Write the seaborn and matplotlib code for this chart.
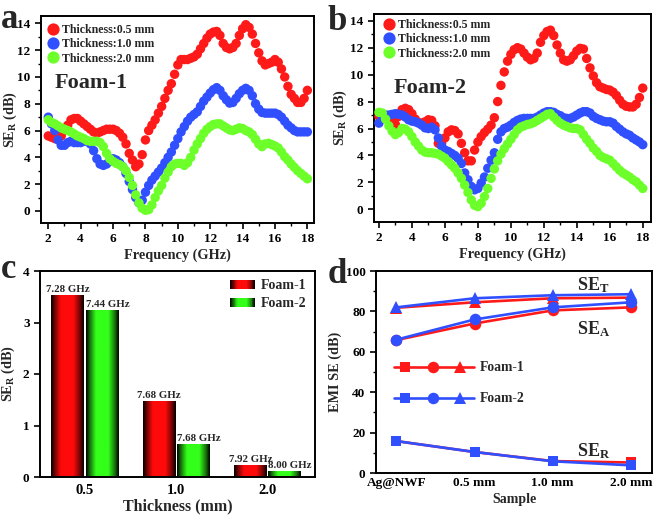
import numpy as np
import pandas as pd
import matplotlib
matplotlib.use("Agg")
import matplotlib.pyplot as plt
import seaborn as sns
from matplotlib.patches import Patch, Rectangle
from matplotlib.lines import Line2D
from matplotlib.legend_handler import HandlerBase
from matplotlib.colors import LinearSegmentedColormap, to_rgb
from matplotlib.ticker import MultipleLocator

# ---------------- data ----------------
freq = np.round(np.arange(2.0, 18.01, 0.2), 1)

foam1_05 = [5.6, 5.5, 5.4, 5.4, 5.6, 6.0, 6.4, 6.8, 6.9, 6.9, 6.7, 6.5, 6.3, 6.1, 5.9, 5.8, 5.9, 6.0, 6.1, 6.1,
            6.1, 6.0, 5.8, 5.5, 5.0, 4.3, 3.8, 3.3, 3.5, 4.2, 5.3, 6.0, 6.4, 6.8, 7.3, 7.8, 8.4, 9.0, 9.5, 10.2,
            10.9, 11.3, 11.3, 11.3, 11.4, 11.5, 11.7, 12.1, 12.5, 12.9, 13.2, 13.35, 13.4, 13.1, 12.5, 12.2, 12.1, 12.2, 12.5, 13.1,
            13.6, 13.9, 13.7, 13.2, 12.5, 11.8, 11.2, 10.9, 11.0, 11.1, 11.3, 11.1, 10.6, 10.0, 9.3, 8.7, 8.4, 8.1, 8.1, 8.4,
            9.0]
foam1_10 = [7.0, 6.5, 6.0, 5.3, 4.9, 4.9, 5.1, 5.2, 5.1, 5.1, 5.1, 5.2, 5.2, 5.0, 4.5, 3.9, 3.5, 3.4, 3.5, 3.7,
            3.9, 3.8, 3.6, 3.3, 2.8, 2.2, 1.6, 1.0, 0.6, 0.8, 1.4, 1.9, 2.3, 2.6, 2.9, 3.2, 3.6, 4.0, 4.4, 4.9,
            5.4, 5.9, 6.3, 6.7, 7.0, 7.2, 7.4, 7.8, 8.2, 8.5, 8.8, 9.05, 9.2, 9.0, 8.6, 8.3, 8.05, 8.1, 8.4, 8.75,
            9.0, 9.15, 9.0, 8.6, 8.0, 7.6, 7.35, 7.3, 7.3, 7.3, 7.3, 7.2, 7.0, 6.7, 6.4, 6.2, 6.0, 5.9, 5.9, 5.9,
            5.9]
foam1_20 = [6.8, 6.6, 6.5, 6.35, 6.2, 6.1, 6.0, 5.9, 5.75, 5.6, 5.5, 5.4, 5.25, 5.2, 5.2, 5.2, 5.1, 4.8, 4.3, 3.9,
            3.7, 3.55, 3.45, 3.3, 3.0, 2.5, 1.9, 1.2, 0.6, 0.2, 0.05, 0.1, 0.45, 1.0, 1.5, 1.9, 2.45, 2.9, 3.3, 3.5,
            3.55, 3.55, 3.4, 3.6, 4.0, 4.55, 5.0, 5.4, 5.8, 6.1, 6.3, 6.45, 6.5, 6.5, 6.35, 6.2, 6.05, 6.0, 6.1, 6.2,
            6.15, 6.0, 5.9, 5.7, 5.35, 5.0, 4.8, 5.0, 5.05, 4.95, 4.85, 4.7, 4.4, 4.05, 3.8, 3.5, 3.25, 3.0, 2.8, 2.6,
            2.4]

foam2_05 = [6.9, 6.9, 6.9, 6.8, 6.6, 6.3, 6.9, 7.4, 7.5, 7.4, 7.1, 6.7, 6.45, 6.4, 6.5, 6.65, 6.6, 6.2, 4.9, 4.9,
            5.3, 5.75, 5.9, 5.85, 5.6, 4.9, 4.2, 3.6, 3.6, 4.4, 5.0, 5.4, 5.7, 5.95, 6.25, 6.8, 8.0, 9.2, 10.2, 11.0,
            11.5, 11.85, 12.0, 11.9, 11.6, 11.3, 11.1, 11.2, 11.6, 12.4, 12.9, 13.2, 13.3, 12.9, 12.2, 11.6, 11.1, 11.0, 11.1, 11.4,
            11.75, 11.95, 11.9, 11.2, 10.5, 9.9, 9.4, 9.1, 9.0, 8.9, 8.85, 8.7, 8.45, 8.1, 7.8, 7.65, 7.6, 7.6, 7.8, 8.3,
            9.0]
foam2_10 = [6.4, 6.8, 7.0, 7.0, 7.05, 7.1, 7.05, 7.0, 6.85, 6.65, 6.55, 6.5, 6.4, 6.25, 6.05, 6.0, 6.1, 5.9, 5.3, 4.7,
            4.4, 4.3, 4.15, 4.0, 3.8, 3.4, 2.7, 2.2, 1.7, 1.45, 1.55, 1.95, 2.4, 3.05, 3.65, 4.2, 5.2, 5.75, 6.0, 6.1,
            6.25, 6.45, 6.6, 6.7, 6.75, 6.75, 6.75, 6.75, 6.85, 7.0, 7.15, 7.25, 7.25, 7.2, 7.05, 6.95, 6.8, 6.75, 6.75, 6.85,
            7.0, 7.15, 7.25, 7.25, 7.15, 6.9, 6.75, 6.65, 6.55, 6.5, 6.5, 6.4, 6.15, 5.95, 5.75, 5.6, 5.5, 5.3, 5.15, 5.0,
            4.8]
foam2_20 = [7.2, 7.15, 6.7, 6.2, 5.8, 5.55, 5.7, 6.0, 5.95, 5.75, 5.4, 5.0, 4.7, 4.4, 4.25, 4.2, 4.2, 4.15, 4.1, 3.95,
            3.8, 3.55, 3.3, 3.05, 2.7, 2.3, 1.8, 1.25, 0.7, 0.3, 0.2, 0.45, 0.95, 1.55, 2.3, 3.0, 3.6, 4.1, 4.5, 4.85,
            5.2, 5.55, 5.9, 6.1, 6.2, 6.3, 6.35, 6.45, 6.6, 6.75, 6.9, 7.05, 7.1, 6.85, 6.6, 6.4, 6.25, 6.15, 6.05, 6.0,
            6.0, 5.9, 5.55, 5.2, 4.9, 4.55, 4.3, 4.0, 3.85, 3.75, 3.65, 3.4, 3.15, 2.9, 2.7, 2.55, 2.4, 2.2, 2.05, 1.8,
            1.55]

thick_labels = ["Thickness:0.5 mm", "Thickness:1.0 mm", "Thickness:2.0 mm"]

# panel c
thick_cats = ["0.5", "1.0", "2.0"]
min_se_foam1 = [3.54, 1.48, 0.24]
min_se_foam2 = [3.24, 0.64, 0.12]
min_freq_foam1 = ["7.28 GHz", "7.68 GHz", "7.92 GHz"]
min_freq_foam2 = ["7.44 GHz", "7.68 GHz", "8.00 GHz"]

# panel d
samples = ["Ag@NWF", "0.5 mm", "1.0 mm", "2.0 mm"]
set_foam1 = [81.8, 84.5, 86.5, 86.8]
set_foam2 = [82.0, 86.5, 88.0, 88.5]
sea_foam1 = [65.8, 74.0, 80.5, 82.0]
sea_foam2 = [66.0, 76.0, 82.0, 84.5]
ser_foam1 = [15.8, 10.4, 5.9, 5.2]
ser_foam2 = [15.8, 10.4, 5.8, 3.8]

# ---------------- style ----------------
sns.set_style("ticks")
plt.rcParams.update({
    "font.family": ["Liberation Serif", "DejaVu Serif"],
    "font.weight": "bold",
    "axes.labelweight": "bold",
    "mathtext.fontset": "custom",
    "mathtext.rm": "Liberation Serif:bold",
    "mathtext.bf": "Liberation Serif:bold",
    "mathtext.it": "Liberation Serif:italic:bold",
    "axes.linewidth": 1.4,
    "xtick.major.width": 1.2, "ytick.major.width": 1.2,
    "xtick.minor.width": 1.0, "ytick.minor.width": 1.0,
    "xtick.major.size": 4, "ytick.major.size": 4,
    "xtick.minor.size": 2.5, "ytick.minor.size": 2.5,
    "xtick.direction": "out", "ytick.direction": "out",
    "xtick.labelsize": 9.5, "ytick.labelsize": 9.5,
    "axes.labelsize": 10.3,
    "axes.edgecolor": "black",
    "xtick.color": "black", "ytick.color": "black",
})

RED = "#ff1a1a"
BLUE = "#3050ff"
GREEN = "#6cff2a"

W, H = 654, 515
fig = plt.figure(figsize=(W / 100, H / 100), dpi=100)


def ax_px(l, t, r, b):
    return fig.add_axes([l / W, 1 - b / H, (r - l) / W, (b - t) / H])


ax_a = ax_px(41, 16, 314, 223)
ax_b = ax_px(374, 14, 651, 222)
ax_c = ax_px(40, 271, 315, 477)
ax_d = ax_px(376, 271, 652, 473)

pal = dict(zip(thick_labels, [RED, BLUE, GREEN]))


def spectrum_panel(ax, series, name, xlim, ylim, name_pos, leg_anchor, ylab_x):
    df = pd.concat([pd.DataFrame({"Frequency": freq, "SE": s, "Thickness": lab})
                    for s, lab in zip(series, thick_labels)], ignore_index=True)
    sns.scatterplot(data=df, x="Frequency", y="SE", hue="Thickness", palette=pal,
                    s=46, linewidth=0, ax=ax, legend=True, zorder=3)
    ax.set_xlim(*xlim)
    ax.set_ylim(*ylim)
    ax.set_xticks(range(2, 19, 2))
    ax.set_yticks(range(0, 15, 2))
    ax.xaxis.set_minor_locator(MultipleLocator(1))
    ax.yaxis.set_minor_locator(MultipleLocator(1))
    ax.tick_params(top=False, right=False, which="both")
    ax.set_xlabel("Frequency (GHz)", labelpad=2)
    ax.set_ylabel("SE$_\\mathregular{R}$ (dB)")
    ax.yaxis.set_label_coords(ylab_x, 0.5)
    h, l = ax.get_legend_handles_labels()
    ax.legend(h, l, loc="upper left", bbox_to_anchor=leg_anchor, frameon=False,
              fontsize=8.6, handlelength=0.8, handletextpad=0.35, labelspacing=0.2,
              borderpad=0.2, borderaxespad=0.2, markerscale=1.3)
    ax.text(name_pos[0], name_pos[1], name, transform=ax.transAxes, fontsize=16,
            fontweight="bold", ha="left", va="baseline")


spectrum_panel(ax_a, [foam1_05, foam1_10, foam1_20], "Foam-1", (1.55, 18.41), (-0.9, 14.55),
               (0.05, 0.652), (0.01, 0.985), (19 - 41) / 273)
spectrum_panel(ax_b, [foam2_05, foam2_10, foam2_20], "Foam-2", (1.7, 18.5), (-0.94, 14.5),
               (0.072, 0.62), (0.02, 1.0), (349 - 374) / 277)

# ---------------- panel c ----------------
dfc = pd.DataFrame({
    "Thickness": thick_cats * 2,
    "SE": min_se_foam1 + min_se_foam2,
    "Foam": ["Foam-1"] * 3 + ["Foam-2"] * 3,
    "Label": min_freq_foam1 + min_freq_foam2,
})
BAR_RED = "#ff0a0a"
BAR_GREEN = "#33ff1a"
sns.barplot(data=dfc, x="Thickness", y="SE", hue="Foam", palette=[BAR_RED, BAR_GREEN],
            width=0.75, gap=0.05, ax=ax_c, legend=False, saturation=1)


def grad_cmap(c):
    c = np.array(to_rgb(c))
    return LinearSegmentedColormap.from_list(
        "g", [(0, (0, 0, 0)), (0.12, tuple(c * 0.45)), (0.3, tuple(c)), (0.68, tuple(c)),
              (0.88, tuple(c * 0.45)), (1.0, (0, 0, 0))])


grad = np.linspace(0, 1, 128).reshape(1, -1)
bars = [p for p in ax_c.patches if p.get_height() > 0]
for bar in bars:
    x0, w, h = bar.get_x(), bar.get_width(), bar.get_height()
    im = ax_c.imshow(grad, cmap=grad_cmap(bar.get_facecolor()), extent=[x0, x0 + w, 0, h],
                     aspect="auto", zorder=bar.get_zorder() + 0.1, interpolation="bilinear")
    im.set_clip_path(bar)

# Foam-1 labels centred on bars, Foam-2 labels start at the bar's left edge
ax_c.bar_label(ax_c.containers[0], labels=min_freq_foam1, fontsize=7.8, fontweight="bold",
               padding=0.5, zorder=5)
for bar, lab in zip(ax_c.containers[1], min_freq_foam2):
    ax_c.annotate(lab, xy=(bar.get_x(), bar.get_height()), xytext=(0, 0.5),
                  textcoords="offset points", ha="left", va="bottom", fontsize=7.8,
                  fontweight="bold", zorder=5)

ax_c.set_xlim(-0.49, 2.52)
ax_c.set_ylim(0, 4)
ax_c.set_yticks(range(0, 5))
ax_c.tick_params(axis="x", length=0, pad=5, labelsize=10.5)
ax_c.tick_params(top=False, right=False)
ax_c.set_xlabel("Thickness (mm)", fontsize=11.5, labelpad=1)
ax_c.set_ylabel("SE$_\\mathregular{R}$ (dB)")
ax_c.yaxis.set_label_coords((17 - 40) / 275, 0.5)


class GradHandler(HandlerBase):
    def create_artists(self, legend, orig_handle, xdescent, ydescent, width, height, fontsize, trans):
        cmap = grad_cmap(orig_handle.get_facecolor())
        n = 30
        arts = []
        for i in range(n):
            r = Rectangle((-xdescent + i * width / n, -ydescent), width / n * 1.08, height,
                          facecolor=cmap((i + 0.5) / n), edgecolor="none", transform=trans)
            arts.append(r)
        return arts


handles = [Patch(facecolor=BAR_RED, label="Foam-1"), Patch(facecolor=BAR_GREEN, label="Foam-2")]
ax_c.legend(handles=handles, handler_map={Patch: GradHandler()}, loc="upper right",
            frameon=False, fontsize=10, handlelength=1.75, handleheight=0.65,
            handletextpad=0.45, labelspacing=0.35, borderaxespad=0.2)

# ---------------- panel d ----------------
rows = []
for foam, st, sa, sr in [("Foam-1", set_foam1, sea_foam1, ser_foam1),
                         ("Foam-2", set_foam2, sea_foam2, ser_foam2)]:
    for kind, vals in [("SE_T", st), ("SE_A", sa), ("SE_R", sr)]:
        for s, v in zip(samples, vals):
            rows.append({"Sample": s, "SE": v, "Foam": foam, "Kind": kind})
dfd = pd.DataFrame(rows)
marker_of = {"SE_T": "^", "SE_A": "o", "SE_R": "s"}
msize_of = {"SE_T": 9.0, "SE_A": 8.3, "SE_R": 7.8}
color_of = {"Foam-1": RED, "Foam-2": BLUE}
for foam in ["Foam-1", "Foam-2"]:
    for kind in ["SE_T", "SE_A", "SE_R"]:
        sub = dfd[(dfd.Foam == foam) & (dfd.Kind == kind)]
        sns.lineplot(data=sub, x="Sample", y="SE", sort=False, color=color_of[foam],
                     marker=marker_of[kind], markersize=msize_of[kind], markeredgewidth=0,
                     linewidth=1.9, ax=ax_d)

ax_d.set_xlim(-0.26, 3.27)
ax_d.set_ylim(0, 100)
ax_d.set_yticks(range(0, 101, 20))
ax_d.yaxis.set_minor_locator(MultipleLocator(10))
ax_d.tick_params(axis="x", length=0, pad=3)
ax_d.tick_params(top=False, right=False, which="both")
ax_d.set_xlabel("Sample", fontsize=10, labelpad=3)
ax_d.set_ylabel("EMI SE (dB)", labelpad=3)

# custom legend for panel d
for yy, foam in [(0.523, "Foam-1"), (0.37, "Foam-2")]:
    c = color_of[foam]
    ax_d.add_line(Line2D([0.065, 0.355], [yy, yy], color=c, lw=1.9, transform=ax_d.transAxes))
    for xx, m, k in [(0.105, "s", "SE_R"), (0.207, "o", "SE_A"), (0.304, "^", "SE_T")]:
        ax_d.add_line(Line2D([xx], [yy], marker=m, color=c, markersize=msize_of[k],
                             markeredgewidth=0, transform=ax_d.transAxes))
    ax_d.text(0.377, yy, foam, transform=ax_d.transAxes, fontsize=9.8, fontweight="bold",
              ha="left", va="center")

for y, sub in [(90.5, "T"), (68.5, "A"), (8.2, "R")]:
    ax_d.text(2.31, y, "SE$_\\mathregular{%s}$" % sub, fontsize=13, fontweight="bold",
              ha="left", va="baseline")

# panel letters
for x, y, t in [(1, 28, "a"), (328, 30, "b"), (1, 278, "c"), (328, 283, "d")]:
    fig.text(x / W, 1 - y / H, t, fontsize=25, fontweight="bold", ha="left", va="baseline")

fig.savefig("out.png", dpi=100)
